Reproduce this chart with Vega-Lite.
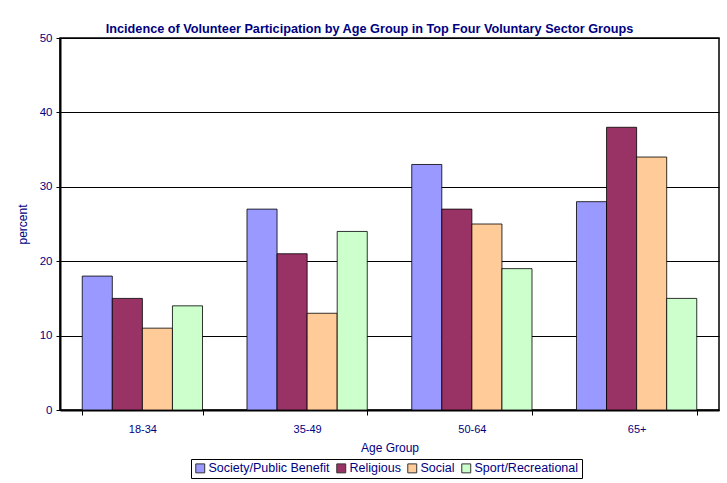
{
  "$schema": "https://vega.github.io/schema/vega-lite/v6.json",
  "width": 659,
  "height": 372,
  "autosize": {"type": "none"},
  "padding": {"left": 60, "top": 38, "right": 8, "bottom": 73},
  "background": "white",
  "title": {
    "text": "Incidence of Volunteer Participation by Age Group in Top Four Voluntary Sector Groups",
    "font": "Liberation Sans",
    "fontSize": 12.7,
    "fontWeight": "bold",
    "color": "#000080",
    "anchor": "middle",
    "dx": -20,
    "dy": 5,
    "offset": 1
  },
  "data": {
    "values": [
      {"age": "18-34", "group": "Society/Public Benefit", "percent": 18},
      {"age": "18-34", "group": "Religious", "percent": 15},
      {"age": "18-34", "group": "Social", "percent": 11},
      {"age": "18-34", "group": "Sport/Recreational", "percent": 14},
      {"age": "35-49", "group": "Society/Public Benefit", "percent": 27},
      {"age": "35-49", "group": "Religious", "percent": 21},
      {"age": "35-49", "group": "Social", "percent": 13},
      {"age": "35-49", "group": "Sport/Recreational", "percent": 24},
      {"age": "50-64", "group": "Society/Public Benefit", "percent": 33},
      {"age": "50-64", "group": "Religious", "percent": 27},
      {"age": "50-64", "group": "Social", "percent": 25},
      {"age": "50-64", "group": "Sport/Recreational", "percent": 19},
      {"age": "65+", "group": "Society/Public Benefit", "percent": 28},
      {"age": "65+", "group": "Religious", "percent": 38},
      {"age": "65+", "group": "Social", "percent": 34},
      {"age": "65+", "group": "Sport/Recreational", "percent": 15}
    ]
  },
  "mark": {"type": "bar", "stroke": "#000000", "strokeWidth": 1, "strokeOpacity": 0.8},
  "encoding": {
    "x": {
      "field": "age",
      "type": "nominal",
      "title": "Age Group",
      "scale": {"paddingInner": 0.27, "paddingOuter": 0.135},
      "axis": {
        "labelAngle": 0,
        "labelFont": "Liberation Sans",
        "labelFontSize": 11,
        "labelColor": "#000080",
        "labelPadding": 8,
        "titleFont": "Liberation Sans",
        "titleFontSize": 12,
        "titleFontWeight": "normal",
        "titleColor": "#000080",
        "titlePadding": 8,
        "domainColor": "#000000",
        "domainWidth": 2,
        "tickColor": "#000000",
        "tickBand": "extent",
        "tickSize": 5,
        "grid": false
      }
    },
    "xOffset": {
      "field": "group",
      "type": "nominal",
      "sort": ["Society/Public Benefit", "Religious", "Social", "Sport/Recreational"],
      "scale": {"paddingInner": 0, "paddingOuter": 0}
    },
    "y": {
      "field": "percent",
      "type": "quantitative",
      "title": "percent",
      "scale": {"domain": [0, 50]},
      "axis": {
        "values": [0, 10, 20, 30, 40, 50],
        "labelFont": "Liberation Sans",
        "labelFontSize": 11.5,
        "labelColor": "#000080",
        "labelPadding": 4,
        "titleFont": "Liberation Sans",
        "titleFontSize": 12,
        "titleFontWeight": "normal",
        "titleColor": "#000080",
        "titlePadding": 10,
        "domainColor": "#000000",
        "domainWidth": 2,
        "tickColor": "#000000",
        "tickSize": 4,
        "grid": true,
        "gridColor": "#000000",
        "gridWidth": 1
      }
    },
    "color": {
      "field": "group",
      "type": "nominal",
      "sort": ["Society/Public Benefit", "Religious", "Social", "Sport/Recreational"],
      "scale": {
        "domain": ["Society/Public Benefit", "Religious", "Social", "Sport/Recreational"],
        "range": ["#9999FF", "#993366", "#FFCC99", "#CCFFCC"]
      },
      "legend": {
        "title": null,
        "orient": "none",
        "direction": "horizontal",
        "legendX": 131,
        "legendY": 421,
        "symbolType": "square",
        "symbolSize": 80,
        "symbolStrokeColor": "#333333",
        "symbolStrokeWidth": 1,
        "labelFont": "Liberation Sans",
        "labelFontSize": 12.5,
        "labelColor": "#000080",
        "labelOffset": 2,
        "columnPadding": 4,
        "padding": 3,
        "strokeColor": "#000000",
        "fillColor": "white"
      }
    }
  },
  "config": {
    "view": {"stroke": "#000000", "strokeWidth": 1.5}
  }
}
